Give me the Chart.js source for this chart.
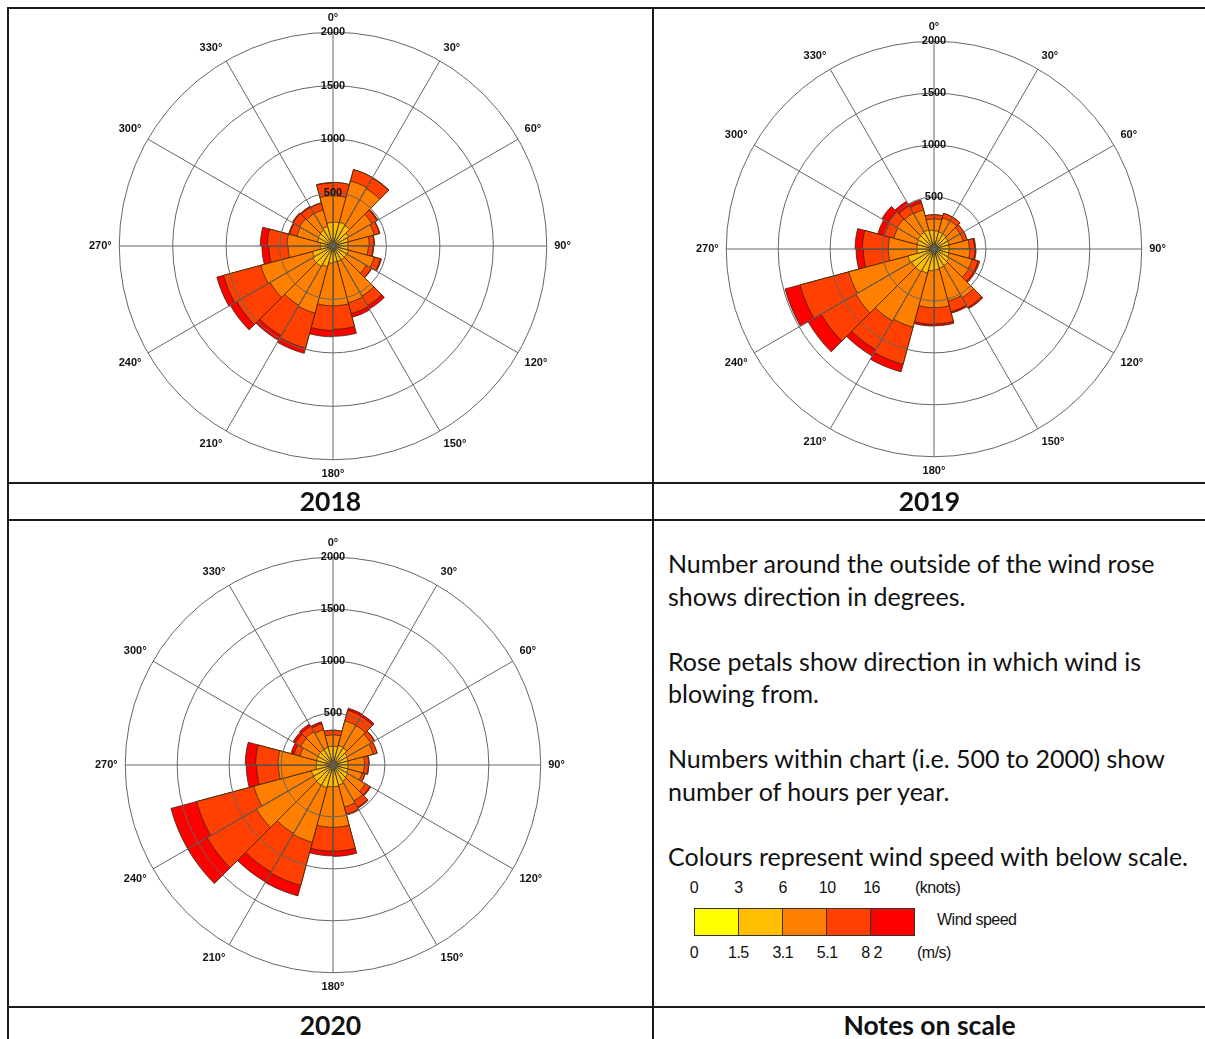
<!DOCTYPE html>
<html>
<head>
<meta charset="utf-8">
<script src="https://cdn.jsdelivr.net/npm/chart.js@4.4.1/dist/chart.umd.min.js"></script>
<style>
  body { margin: 0; background: #fff; }
  #page { position: relative; width: 1205px; height: 1039px; overflow: hidden; background: #fff; color: #111; }
  .ln { position: absolute; background: #1a1a1a; }
  .rose { position: absolute; }
  .cap { position: absolute; font-family: Lato, 'Open Sans', sans-serif; font-weight: 700; font-size: 26.5px; text-align: center; line-height: 35px; height: 35px; }
  #notes { position: absolute; left: 668px; top: 547px; font-family: Lato, 'Open Sans', sans-serif; font-size: 25px; line-height: 32.5px; white-space: pre; }
  .lg { position: absolute; font-family: 'Liberation Sans', Arial, sans-serif; font-size: 16px; letter-spacing: -0.5px; line-height: 18px; }
  .lgc { transform: translateX(-50%); }
  #bar { position: absolute; left: 694px; top: 908px; display: flex; border: 1.5px solid #333; }
  #bar div { width: 43px; height: 26px; border-right: 1.5px solid #333; }
  #bar div:last-child { border-right: none; }
</style>
</head>
<body>
<div id="page">
  <div class="ln" style="left:7px;top:7px;width:1198px;height:2px"></div>
  <div class="ln" style="left:7px;top:7px;width:2px;height:1032px"></div>
  <div class="ln" style="left:652px;top:7px;width:2px;height:1032px"></div>
  <div class="ln" style="left:7px;top:482px;width:1198px;height:2px"></div>
  <div class="ln" style="left:7px;top:519px;width:1198px;height:2px"></div>
  <div class="ln" style="left:7px;top:1006px;width:1198px;height:2px"></div>

  <div class="rose" style="left:86px;top:2px;width:489px;height:489px"><canvas id="rose2018"></canvas></div>
  <div class="rose" style="left:693px;top:11px;width:477px;height:477px"><canvas id="rose2019"></canvas></div>
  <div class="rose" style="left:92px;top:527px;width:477px;height:477px"><canvas id="rose2020"></canvas></div>

  <div class="cap" style="left:9px;top:484px;width:643px">2018</div>
  <div class="cap" style="left:654px;top:484px;width:551px">2019</div>
  <div class="cap" style="left:9px;top:1008px;width:643px">2020</div>
  <div class="cap" style="left:654px;top:1008px;width:551px">Notes on scale</div>

  <div id="notes"></div>
  <div id="legend"></div>
</div>

<script>
// direction of each 15° sector (start edge, clockwise from north)
const sectorLabels = ['0°','15°','30°','45°','60°','75°','90°','105°','120°','135°','150°','165°',
  '180°','195°','210°','225°','240°','255°','270°','285°','300°','315°','330°','345°'];

const speedClasses = ['0 - 1.5 m/s', '1.5 - 3.1 m/s', '3.1 - 5.1 m/s', '5.1 - 8.2 m/s', '>= 8.2 m/s'];
const speedColours = ['#FFFF00', '#FFBF00', '#FF8000', '#FF4000', '#FF0000'];
const knotTicks = ['0', '3', '6', '10', '16'];
const msTicks = ['0', '1.5', '3.1', '5.1', '8 2'];

// hours per year in each speed class, per sector
const y2018_v1 = [40,38,36,34,32,30,30,32,34,36,38,40,42,44,44,42,40,34,30,30,32,34,38,40];
const y2018_v2 = [185,192,184,136,118,110,110,118,116,114,112,110,118,156,176,178,160,86,90,120,128,136,152,180];
const y2018_v3 = [245,400,400,250,250,200,190,250,210,390,400,410,400,450,420,460,500,300,310,200,200,180,160,250];
const y2018_v4 = [125,110,115,55,50,45,45,60,55,105,105,220,230,340,330,360,360,180,185,70,70,70,65,120];
const y2018_v5 = [0,0,5,10,5,5,5,10,5,35,35,65,60,50,50,70,65,65,65,10,10,10,5,5];

const y2019_v1 = [42,40,38,36,34,34,34,36,38,40,42,44,46,48,48,46,44,40,38,36,36,38,40,42];
const y2019_v2 = [133,130,127,119,116,111,111,114,132,145,148,156,164,192,202,204,216,125,127,134,144,147,150,138];
const y2019_v3 = [115,140,145,135,140,195,200,230,215,355,330,365,355,540,550,620,590,275,275,230,230,215,200,110];
const y2019_v4 = [40,45,45,40,40,50,50,60,55,110,105,157,160,370,320,385,485,240,250,95,100,80,70,40];
const y2019_v5 = [0,0,0,0,0,10,10,15,15,15,15,18,17,75,70,145,150,70,70,65,70,50,30,0];

const y2020_v1 = [40,40,38,36,34,34,34,36,38,40,42,44,46,48,48,46,44,40,38,36,36,38,40,40];
const y2020_v2 = [140,155,152,124,116,111,111,114,127,140,158,166,164,177,177,174,171,125,122,129,134,132,135,140];
const y2020_v3 = [110,245,250,260,250,160,155,140,195,220,220,390,390,545,535,630,575,360,370,165,190,200,175,110];
const y2020_v4 = [45,105,100,40,40,40,40,30,50,70,70,230,230,430,430,550,570,210,215,60,60,60,60,45];
const y2020_v5 = [0,20,20,5,0,5,5,0,10,10,10,50,45,105,110,215,255,100,100,30,25,25,20,0];

const noteLines = [
  'Number around the outside of the wind rose',
  'shows direction in degrees.',
  '',
  'Rose petals show direction in which wind is',
  'blowing from.',
  '',
  'Numbers within chart (i.e. 500 to 2000) show',
  'number of hours per year.',
  '',
  'Colours represent wind speed with below scale.'
];

const labelFont = { family: "'Liberation Sans', Arial, sans-serif", size: 11, weight: 'bold' };

function drawRose(id, bands) {
  // petals are stacked: each class is drawn out to the running total
  let run = new Array(sectorLabels.length).fill(0);
  const datasets = bands.map((b, k) => {
    run = run.map((v, i) => v + b[i]);
    return {
      label: speedClasses[k],
      data: run.slice(),
      backgroundColor: speedColours[k],
      borderColor: '#3a2608',
      borderWidth: 0.8
    };
  });

  new Chart(document.getElementById(id), {
    type: 'polarArea',
    data: { labels: sectorLabels, datasets },
    options: {
      responsive: true,
      maintainAspectRatio: false,
      animation: false,
      plugins: { legend: { display: false }, tooltip: { enabled: false } },
      scales: {
        r: {
          min: 0,
          max: 2000,
          startAngle: 0,
          ticks: {
            stepSize: 500, z: 1, showLabelBackdrop: false, color: '#111', font: labelFont,
            callback: v => String(v)
          },
          grid: { z: 1, circular: true, color: '#666', lineWidth: 1 },
          angleLines: { display: true, color: '#666', lineWidth: ctx => ctx.index % 2 ? 0 : 1 },
          pointLabels: {
            display: true, padding: 0, color: '#111', font: labelFont,
            callback: (l, i) => i % 2 ? '' : l
          }
        }
      }
    }
  });
}

drawRose('rose2018', [y2018_v1, y2018_v2, y2018_v3, y2018_v4, y2018_v5]);
drawRose('rose2019', [y2019_v1, y2019_v2, y2019_v3, y2019_v4, y2019_v5]);
drawRose('rose2020', [y2020_v1, y2020_v2, y2020_v3, y2020_v4, y2020_v5]);

document.getElementById('notes').textContent = noteLines.join('\n');

// wind speed scale
const lg = document.getElementById('legend');
let html = '<div id="bar">' + speedColours.map(c => `<div style="background:${c}"></div>`).join('') + '</div>';
knotTicks.forEach((t, i) => {
  html += `<div class="lg lgc" style="left:${694 + i * 44.4}px;top:879px">${t}</div>`;
});
msTicks.forEach((t, i) => {
  html += `<div class="lg lgc" style="left:${694 + i * 44.4}px;top:944px">${t}</div>`;
});
html += '<div class="lg" style="left:915px;top:879px">(knots)</div>';
html += '<div class="lg" style="left:937px;top:911px">Wind speed</div>';
html += '<div class="lg" style="left:917px;top:944px">(m/s)</div>';
lg.innerHTML = html;
</script>
</body>
</html>
